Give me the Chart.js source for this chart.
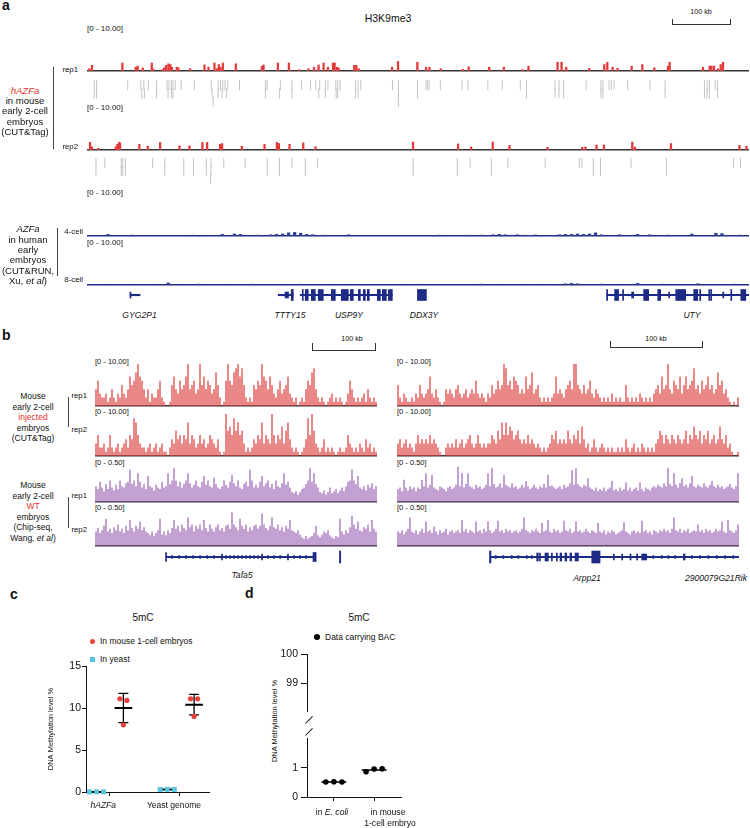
<!DOCTYPE html>
<html><head><meta charset="utf-8">
<script src="https://cdn.jsdelivr.net/npm/chart.js@4"></script>
<style>
html,body{margin:0;padding:0;background:#fff;}
#root{position:relative;width:750px;height:828px;overflow:hidden;font-family:"Liberation Sans",Arial,Helvetica,sans-serif;color:#111;}
.t{position:absolute;white-space:nowrap;line-height:1;}
.ln{position:absolute;}
canvas{position:absolute;}
</style></head><body><div id="root"></div>
<script>
// ---------------- DATA ----------------
// Panel a: genomic span (kb) and H3K9me3 peaks (position kb, signal)
const aSpanKb = 1140;
const aRep1Pos = [4.0,8.6,60.9,83.9,87.3,96.0,111.5,114.3,129.9,132.7,136.2,140.2,143.6,146.0,154.6,157.4,177.6,202.3,209.2,219.5,223.6,227.0,229.8,233.9,256.3,301.1,304.0,328.7,347.7,365.5,381.5,390.8,398.8,407.4,414.9,423.6,426.4,430.4,433.3,460.3,463.8,467.8,525.3,535.6,568.9,583.9,589.6,609.2,647.1,657.4,692.5,717.8,749.4,760.3,810.3,817.2,825.3,864.9,890.8,896.0,905.1,913.7,937.9,956.3,977.0,1000.5,1003.4,1060.8,1072.3,1075.3,1079.7,1086.6,1091.3,1095.3];
const aRep1Val = [0.6,1.5,2.1,1.0,1.3,0.8,2.1,0.5,0.35,0.8,1.5,1.9,1.7,1.0,1.0,0.85,0.6,1.6,1.0,2.1,0.6,1.7,1.0,2.1,1.9,1.2,1.6,2.1,2.1,0.35,0.6,1.0,1.6,2.1,1.0,2.1,2.1,1.0,0.8,1.5,1.5,0.6,1.0,2.5,2.3,1.0,1.0,0.6,0.45,1.1,1.0,1.0,0.35,1.3,2.3,2.3,1.0,0.7,1.7,2.3,1.0,0.7,1.3,1.7,0.85,1.3,2.3,1.0,1.3,1.3,1.3,0.6,1.7,2.3];
const aRep2Pos = [5.2,8.6,19.5,49.4,52.3,55.2,56.9,90.2,104.6,125.9,159.2,176.4,198.8,206.9,229.3,232.7,266.7,305.7,327.0,330.5,348.8,372.4,393.6,561.5,639.0,661.5,698.7,727.5,793.0,852.8,858.5,877.5,890.1,939.0,943.6,1005.6,1123.5,1135.6];
const aRep2Val = [2.0,0.85,0.45,0.85,1.5,2.0,1.9,1.5,1.0,2.0,1.1,1.1,2.0,2.0,1.5,1.7,1.0,1.5,2.0,1.7,1.5,1.9,0.85,2.1,1.6,0.8,2.1,1.2,0.7,0.7,0.8,1.3,1.3,2.1,0.8,1.7,1.2,1.0];
// peak-call rows (kb)
const aRep1Row1 = [2.3,6.3,60.9,83.9,89.1,97.2,111.5,129.9,133.3,137.4,140.2,144.2,154.6,177.6,207.5,219.5,223.6,227.6,231.6,236.2,256.9,302.3,305.2,328.7,348.8,365.5,381.5,390.8,397.6,407.4,412.0,425.8,429.2,433.3,460.3,464.9,469.5,525.2,535.6,569.0,583.9,586.8,589.6,609.2,647.1,657.5,692.5,717.8,749.4,760.3,810.3,817.2,825.3,864.9,890.8,894.2,905.1,909.2,913.7,937.9,977.0,1003.4,1072.4,1077.0,1081.0,1091.3,1095.4];
const aRep1Row2 = [2.3,6.3,85.6,90.2,111.5,131.6,137.4,140.2,209.2,219.5,226.4,233.9,302.3,327.0,348.8,395.9,407.4,426.4,429.2,460.3,464.9,535.6,569.0,760.3,810.3,817.2,825.3,890.8,894.2,1003.4,1072.4,1077.0,1081.0,1095.4];
const aRep1Row3 = [210.9,535.6];
const aRep2Row1 = [5.2,20.7,49.4,52.3,56.9,104.6,125.9,159.2,176.4,198.8,206.9,229.3,266.7,305.7,327.0,348.8,372.4,393.6,561.5,639.0,661.5,698.7,727.5,793.0,852.8,857.4,877.5,890.1,943.6,1005.6,1123.5,1135.6];
const aRep2Row2 = [5.2,49.4,52.3,56.9,125.9,159.2,176.4,198.8,206.9,305.7,327.0,372.4,561.5,639.0,698.7,877.5,890.1,1005.6];
const aRep2Row3 = [206.3];
// human CUT&RUN (binned signal)
const aHuman4cell = [.12,.1,.15,.5,.12,.1,.15,.3,.12,.1, .12,.15,.25,.1,.12,.15,.1,.3,.12,.1, .15,.12,.5,.15,.6,.5,.15,.12,.3,.15, .4,.5,.6,.9,1.0,.8,.5,.4,.2,.3, .15,.12,.15,.4,.15,.12,.1,.15,.2,.12, .1,.12,.15,.1,.12,.25,.15,.12,.3,.15, .12,.15,.12,.3,.15,.3,.2,.4,.5,.4, .3,.4,.3,.15,.35,.2,.15,.2,.4,.5, .5,.6,.5,.6,.9,.4,.2,.15,.4,.2, .15,.5,.2,.4,.15,.12,.3,.15,.12,.2, .6,.2,.15,.12,.8,.7,.2,.15,.3,.12];
const aHuman8cell = [.1,.12,.15,.1,.12,.1,.15,.12,.1,.12, .15,.1,.12,.6,.15,.1,.12,.15,.3,.12, .1,.12,.15,.1,.12,.1,.15,.3,.12,.1, .12,.15,.1,.12,.15,.3,.12,.1,.15,.12, .1,.12,.15,.1,.12,.25,.1,.15,.12,.1, .12,.15,.1,.12,.1,.3,.15,.12,.1,.15, .12,.1,.15,.12,.1,.3,.12,.15,.1,.12, .15,.12,.1,.15,.12,.1,.15,.2,.15,.4, .5,.4,.15,.12,.2,.3,.15,.1,.12,.15, .12,.5,.15,.12,.1,.3,.12,.15,.1,.12, .15,.4,.12,.1,.15,.12,.1,.3,.12,.1];
// genes panel a (kb ranges)
const aGeneNames = ['GYG2P1','TTTY15','USP9Y','DDX3Y','UTY'];
const aIntrons = [[74.1,91.4],[329.3,355.2],[367.2,525.8],[894.8,1139.6]];
const aExons = [[351.7,355.2],[370.7,372.4],[375.8,381.0],[386.2,393.1],[398.2,406.9],[420.7,427.6],[437.9,450.0],[453.4,458.6],[467.2,470.7],[475.8,479.3],[482.7,486.2],[500.0,505.2],[508.6,515.5],[519.0,525.8],[569.0,584.5],[894.8,896.6],[908.6,915.5],[922.4,924.1],[958.6,967.2],[982.8,987.9],[1013.8,1031.0],[1044.8,1051.7],[1055.0,1056.9],[1070.7,1072.4],[1074.0,1075.8],[1108.6,1110.3],[1125.9,1134.5]];
const aMarks = [[74.1,75.6],[341.0,347.0],[937.9,941.4],[1001.7,1003.4],[1094.8,1096.6]];

// Panel b: binned signal
const bInjRep1Left = [4,6,3,2, 2,3,1,2,4,2, 1,3,2,5, 3,2,4,7, 5,6,8,10,7,6,4, 2,4,1,3,2,2,4,6,2,1, 0,0,1, 5,7,4,3,6,4,5,7,10, 4,5,6,3,4,10,5,7,4,6,5,3,4,8,5,2, 0,1, 6,10,6,5,8,9,10,7,9,5, 2,1,2,1, 5,4,6,5,10,7,6,4,7,5,3,2, 4,6,3,4,5,7,3,2, 1,2,0,1,2,1, 4,6,5,8,9,4,2, 1,2,1,0,1,2,3,1,2,1,2,1,0,1, 3,6,4,2, 1,2,1,2,3,1,4,2,1,2,1];
const bInjRep2Left = [3,5,2,2, 3,1,2,5,2,1, 2,3,1,2, 3,4,2,5, 4,9,8,5,3,2,2, 1,2,3,1,2,3,1,2,3,1, 1,0,2, 4,3,6,4,5,3,5,4,8, 3,5,4,2,3,5,3,4,2,3,5,4,3,2,4,1, 0,1, 10,6,7,5,9,6,8,5,6,3, 1,2,1,2, 4,3,5,4,8,3,5,4,3,10,5,3, 5,4,7,3,6,8,4,2, 1,2,1,0,1,2, 4,9,5,10,6,3,2, 1,2,4,1,2,1,2,1,0,1,2,1,1,2, 5,3,2,1, 2,1,3,2,1,4,2,3,1,2,1];
const bWTRep1Left = [.22,.18,.28,.2,.15,.25,.18,.3,.2,.16, .24,.18,.3,.22,.2,.26,.28,.45,.25,.3, .22,.4,.28,.2,.25,.18,.36,.22,.2,.16, .24,.2,.18,.28,.2,.22,.4,.25,.3,.47, .3,.22,.28,.2,.25,.3,.4,.26,.2,.24, .3,.22,.2,.28,.36,.24,.3,.22,.2,.34, .25,.2,.18,.22,.3,.24,.2,.28,.38,.26, .22,.3,.2,.18,.25,.28,.22,.45,.3,.2, .24,.2,.28,.36,.22,.26,.3,.2,.25,.18, .3,.22,.2,.26,.4,.24,.28,.2,.14,.12, .15,.1,.14,.18,.2,.25,.3,.47,.28,.4, .25,.2,.14,.12,.16,.1,.14,.2,.12,.15, .18,.12,.16,.2,.15,.22,.28,.3,.45,.3, .25,.36,.2,.18,.22,.16,.24,.2,.26,.18,.22];
const bWTRep2Left = [.2,.25,.18,.22,.28,.38,.2,.24,.18,.26, .22,.3,.2,.24,.18,.28,.22,.36,.25,.2, .28,.24,.34,.22,.26,.2,.18,.15,.2,.14, .18,.22,.38,.16,.2,.15,.22,.18,.25,.36, .24,.28,.2,.3,.25,.22,.4,.26,.3,.2, .28,.24,.3,.22,.36,.25,.2,.3,.24,.2, .26,.3,.22,.25,.2,.28,.3,.24,.47,.3, .26,.22,.38,.28,.24,.3,.2,.26,.22,.28, .3,.24,.28,.45,.3,.25,.22,.28,.4,.26, .24,.3,.22,.26,.2,.28,.24,.36,.22,.2, .18,.22,.16,.12,.1,.14,.1,.12,.14,.18, .28,.15,.12,.16,.2,.18,.22,.15,.12,.1, .14,.12,.38,.2,.16,.22,.18,.26,.42,.3, .24,.34,.22,.2,.26,.24,.3,.2,.36,.24,.2];
const bInjRep1Right = [5,2,1,3, 2,1,1,2,1, 3,2,5,3,2, 3,4,7,3, 2,4,2,1, 0,1,4, 3,4,3,2,4, 5,3,2,3,4,2,3,4,3,6, 3,2,3,2,1,3,2, 5,3,4,6,4,5,10, 9,5,6,4,7,6,5,3, 4,3,7,4,5,8,3,4,5,2, 1,2,1,2,1,2,3, 7,3,4,3,2, 4,5,6,4,10,10,5,4,3,5, 3,4,6,3,2,4,3,2,1,2, 1,2,1,3,1,2,1,2,1,1, 5,2,1,2,1,2,1,3,2,1,2,1,2,1,3, 4,5,3,7,4,5,10,4,3,6,5,4,7,3,5, 7,4,5,6,9,4,5,3,6,4,5,7,4,5,3,4,8,5,6,3,4,2,1, 0,1,0,2];
const bInjRep2Right = [3,4,2,3, 4,2,3,2,1, 3,5,3,4,3, 4,3,5,3, 4,3,2,1, 0,0,2, 3,2,3,2,4, 2,3,4,2,3,4,5,3,2,3, 5,3,2,3,2,3,3, 5,4,3,6,4,8,5, 8,5,7,6,4,5,6,4, 3,4,3,5,3,4,3,2,3,2, 1,2,1,2,3,5,4, 6,3,4,3,4, 3,6,4,3,5,4,6,3,7,4, 2,3,1,2,4,2,1,2,3,2, 1,2,1,2,1,1,2,1,2,1, 4,2,1,2,3,1,2,1,3,2,1,2,1,2,1, 3,4,6,5,3,5,4,3,5,4,3,5,4,3,4, 6,3,5,4,7,5,4,6,3,5,4,6,3,4,5,3,4,7,4,3,5,2,3, 1,0,0,1];
const bWTRep1Right = [.18,.2,.15,.31,.2,.16,.22,.18,.2,.15, .2,.18,.31,.22,.4,.2,.24,.38,.2,.18, .16,.22,.2,.18,.15,.2,.22,.18,.2,.24, .49,.22,.4,.2,.25,.4,.22,.2,.18,.24, .2,.22,.18,.2,.24,.4,.22,.47,.25,.2, .22,.26,.2,.38,.24,.22,.2,.26,.2,.22, .18,.2,.24,.2,.29,.22,.18,.2,.24,.2, .18,.22,.2,.25,.2,.38,.22,.23,.2,.18, .2,.22,.18,.24,.2,.22,.26,.44,.24,.47, .25,.22,.2,.24,.22,.33,.2,.18,.16,.2, .15,.18,.16,.2,.15,.18,.2,.29,.16,.18, .15,.2,.16,.18,.27,.16,.2,.15,.18,.2, .16,.27,.18,.15,.2,.18,.16,.2,.22,.2, .24,.22,.2,.26,.22,.47,.25,.22,.4,.24, .2,.26,.33,.22,.24,.2,.26,.36,.22,.2, .24,.22,.2,.26,.22,.2,.24,.29,.22,.2, .24,.2,.22,.18,.2,.22,.25,.2,.18,.22,.4];
const bWTRep2Right = [.2,.18,.22,.16,.2,.24,.4,.2,.18,.22, .16,.2,.24,.18,.34,.2,.22,.18,.27,.2, .16,.22,.18,.2,.24,.16,.2,.22,.18,.2, .22,.18,.36,.2,.24,.18,.22,.2,.18,.34, .2,.22,.18,.24,.2,.34,.22,.18,.2,.24, .35,.2,.22,.18,.24,.2,.22,.18,.2,.22, .18,.2,.24,.4,.22,.2,.18,.22,.2,.24, .2,.18,.32,.2,.22,.36,.2,.18,.24,.2, .22,.18,.2,.35,.22,.2,.24,.18,.2,.34, .2,.22,.18,.2,.24,.2,.18,.22,.2,.18, .32,.2,.18,.22,.16,.2,.18,.22,.2,.16, .18,.2,.22,.33,.2,.18,.16,.2,.22,.18, .2,.18,.35,.2,.22,.18,.2,.16,.22,.2, .18,.22,.2,.24,.2,.22,.18,.24,.4,.22, .2,.24,.18,.22,.2,.24,.18,.2,.22,.2, .3,.2,.22,.18,.24,.2,.22,.18,.2,.24, .2,.22,.34,.2,.18,.36,.22,.2,.18,.22,.3];
// genes panel b (kb)
const bLeftSpanKb = 447.6, bRightSpanKb = 367.7;
const bLeftIntrons = [[112.7,349.2]];
const bLeftTall = [[388.0,390.0]];
const bLeftMid = [[112.0,113.6],[346.0,351.0]];
const bLeftShort = [[200.8,202.4],[264.3,265.9],[305.5,307.1]];
const bLeftTiny = [[121.6,122.8],[132.7,133.9],[143.8,145.0],[155.0,156.2],[166.1,167.3],[177.2,178.4],[188.3,189.5],[207.3,208.5],[213.7,214.9],[220.0,221.2],[226.4,227.6],[232.7,233.9],[239.1,240.3],[245.4,246.6],[251.8,253.0],[258.1,259.3],[274.0,275.2],[283.5,284.7],[293.1,294.3],[315.3,316.5],[324.8,326.0],[334.3,335.5]];
const bRightIntrons = [[100.0,368.8]];
const bRightTall = [[99.5,101.0],[209.4,218.3]];
const bRightMid = [[150.2,152.0],[153.2,154.2],[159.1,162.7],[166.0,167.0],[171.3,172.3],[175.3,177.1],[180.6,182.5],[186.0,187.8],[191.4,195.0]];
const bRightShort = [[232.6,233.6],[241.6,242.6],[250.5,251.5],[257.7,258.7],[263.1,268.5],[307.9,309.7]];
const bRightTiny = [[105.6,106.6],[113.8,114.8],[122.8,123.8],[129.9,130.9],[139.0,140.0],[144.3,145.3],[275.1,276.1],[284.1,285.1],[291.2,292.2],[298.4,299.4],[316.4,317.4],[325.3,326.3],[334.2,335.2],[343.3,344.3],[352.2,353.2],[361.1,362.1]];

// Panel c
const cCategories = ['hAZFa','Yeast genome'];
const cMouseEmbryo = [[11.1,10.9,8.0],[11.1,11.1,9.0]];
const cYeast = [[0.01,0.02,0.01],[0.30,0.32,0.30]];
const cTicks = [0,5,10,15];
// Panel d
const dCategories = ['in E. coli','in mouse 1-cell embryo'];
const dBAC = [[0.51,0.52,0.51],[0.86,0.95,0.96]];
const dUpperTicks = [99,100];
const dLowerTicks = [0,1];

// ---------------- DRAWING ----------------
const FONT='"Liberation Sans", Arial, Helvetica, sans-serif';
Chart.defaults.font.family=FONT;
Chart.defaults.color='#111';
const root=document.getElementById('root');
const NAVY='#1e2b86', RED='#e8302a';

function T(html,x,y,size,align,style){
  const d=document.createElement('div');d.className='t';d.innerHTML=html;
  const tx=align==='center'?'-50%':align==='right'?'-100%':'0';
  d.style.cssText=`left:${x}px;top:${y}px;font-size:${size}px;transform:translate(${tx},-50%);${style||''}`;
  root.appendChild(d);return d;
}
function L(x,y,w,h,color,extra){
  const d=document.createElement('div');d.className='ln';
  d.style.cssText=`left:${x}px;top:${y}px;width:${w}px;height:${h}px;background:${color||'#222'};${extra||''}`;
  root.appendChild(d);return d;
}
function cv(x,y,w,h){const c=document.createElement('canvas');c.width=w;c.height=h;c.style.left=x+'px';c.style.top=y+'px';c.style.width=w+'px';c.style.height=h+'px';root.appendChild(c);return c;}
function baseOpts(){return {responsive:false,maintainAspectRatio:false,animation:false,events:[],devicePixelRatio:1,plugins:{legend:{display:false},tooltip:{enabled:false},title:{display:false}}};}
function baseAxis(color,w){return {display:true,grid:{display:false,drawTicks:false},ticks:{display:false},border:{display:true,color:color,width:w||1.5}};}

function denseTrack(x,y,w,h,vals,color,max,axisColor,bw){
  new Chart(cv(x,y,w,h),{type:'bar',data:{labels:vals.map((v,i)=>i),datasets:[{data:vals,backgroundColor:color,borderWidth:0,barPercentage:bw||0.85,categoryPercentage:1}]},
    options:Object.assign(baseOpts(),{layout:{padding:{bottom:2}},scales:{x:baseAxis(axisColor),y:{display:false,min:0,max:max}}})});
}
function peakTrack(x,y,w,h,pos,vals,color,max,span,axisColor){
  new Chart(cv(x,y,w,h),{type:'bar',data:{datasets:[{data:pos.map((p,i)=>({x:p,y:vals[i]})),backgroundColor:color,borderWidth:0,barThickness:1.6}]},
    options:Object.assign(baseOpts(),{layout:{padding:{bottom:2}},scales:{x:Object.assign(baseAxis(axisColor),{type:'linear',min:0,max:span,offset:false}),y:{display:false,min:0,max:max}}})});
}
function rowTrack(x,y,w,h,rows,span){
  new Chart(cv(x,y,w,h),{type:'scatter',data:{datasets:rows.map((arr,r)=>({data:arr.map(p=>({x:p,y:r+1})),pointStyle:'line',rotation:90,pointRadius:5,borderColor:'#c4c4c4',borderWidth:1,clip:false}))},
    options:Object.assign(baseOpts(),{layout:{padding:0},scales:{x:{type:'linear',display:false,min:0,max:span},y:{type:'linear',display:false,min:0.5,max:3.5,reverse:true}}})});
}
function geneTrack(x,y,w,h,span,introns,groups){
  const ds=[{data:introns.map(r=>({x:r,y:'g'})),backgroundColor:NAVY,barThickness:1.5,grouped:false,borderWidth:0}];
  groups.forEach(g=>ds.push({data:g[0].map(r=>({x:r,y:'g'})),backgroundColor:NAVY,barThickness:g[1],grouped:false,borderWidth:0,minBarLength:1}));
  new Chart(cv(x,y,w,h),{type:'bar',data:{labels:['g'],datasets:ds},
    options:Object.assign(baseOpts(),{indexAxis:'y',layout:{padding:0},scales:{x:{type:'linear',display:false,min:0,max:span,offset:false},y:{type:'category',display:false}}})});
}

// ===== Panel a =====
T('<b>a</b>',2,5,14);
T('H3K9me3',388,18,10.5,'center');
T('100 kb',701,12,7.2,'center');
L(672,24,59,1,'#333');L(672,19,1,6,'#333');L(730,19,1,6,'#333');
T('[0 - 10.00]',87,29,8);
T('rep1',78,70,7.8,'right');
peakTrack(87,33,662,40,aRep1Pos,aRep1Val,'#e03a3a',10,aSpanKb,'#333');
rowTrack(87,75,662,37,[aRep1Row1,aRep1Row2,aRep1Row3],aSpanKb);
T('[0 - 10.00]',87,108,8);
T('rep2',78,147,7.8,'right');
peakTrack(87,112,662,40,aRep2Pos,aRep2Val,'#e03a3a',10,aSpanKb,'#333');
rowTrack(87,153,662,36,[aRep2Row1,aRep2Row2,aRep2Row3],aSpanKb);
L(52.5,67,1.2,82,'#444');
T('<i>hAZFa</i>',25,90.7,9.5,'center','color:'+RED);
T('in mouse',25,100.9,9.5,'center');
T('early 2-cell',25,111.4,9.5,'center');
T('embryos',25,121.7,9.5,'center');
T('(CUT&amp;Tag)',25,132,9.5,'center');

T('[0 - 10.00]',87,193,8);
T('4-cell',83,231.5,7.8,'right');
denseTrack(87,197,662,41,aHuman4cell,'#2b3f93',10,NAVY,0.55);
T('[0 - 10.00]',87,243,8);
T('8-cell',83,279.5,7.8,'right');
denseTrack(87,246,662,41,aHuman8cell,'#2b3f93',10,NAVY,0.55);
L(56.5,228,1.2,48,'#444');
T('<i>AZFa</i>',28,229.3,9.5,'center');
T('in human',28,239.6,9.5,'center');
T('early',28,249.9,9.5,'center');
T('embryos',28,260.2,9.5,'center');
T('(CUT&amp;RUN,',28,270.5,9.5,'center');
T('Xu, <i>et al</i>)',28,281,9.5,'center');

geneTrack(87,287,662,16,aSpanKb,aIntrons,[[aExons,11],[aMarks,6]]);
[[aGeneNames[0],139.5],[aGeneNames[1],290],[aGeneNames[2],349],[aGeneNames[3],424],[aGeneNames[4],692]].forEach(g=>T('<i>'+g[0]+'</i>',g[1],314.5,8.6,'center'));

// ===== Panel b =====
T('<b>b</b>',2,335,14);
T('100 kb',352,339,7.2,'center');
L(312,350,64,1,'#333');L(312,343,1,8,'#333');L(375,343,1,8,'#333');
T('100 kb',656,339,7.2,'center');
L(610,347,93,1,'#333');L(610,341,1,7,'#333');L(702,341,1,7,'#333');

const RED_T='rgba(222,70,70,0.92)', PUR_T='rgba(148,88,175,0.8)';
[[95,282],[397,342]].forEach((p,k)=>{
  T('[0 - 10.00]',p[0],362,7.5);
  T('[0 - 10.00]',p[0],412,7.5);
  T('[0 - 0.50]',p[0],463,7.5);
  T('[0 - 0.50]',p[0],508,7.5);
});
denseTrack(95,364,282,44,bInjRep1Left,RED_T,10,'#333',0.7);
denseTrack(95,414,282,44,bInjRep2Left,RED_T,10,'#333',0.7);
denseTrack(95,466,282,38,bWTRep1Left,PUR_T,0.5,'#333',0.7);
denseTrack(95,510,282,38,bWTRep2Left,PUR_T,0.5,'#333',0.7);
denseTrack(397,364,342,44,bInjRep1Right,RED_T,10,'#333',0.7);
denseTrack(397,414,342,44,bInjRep2Right,RED_T,10,'#333',0.7);
denseTrack(397,466,342,38,bWTRep1Right,PUR_T,0.5,'#333',0.7);
denseTrack(397,510,342,38,bWTRep2Right,PUR_T,0.5,'#333',0.7);

T('rep1',87,396,7.8,'right');
T('rep2',87,430,7.8,'right');
T('rep1',87,496,7.8,'right');
T('rep2',87,530,7.8,'right');
L(68,397,1.2,30,'#444');
L(68,497,1.2,31,'#444');
T('Mouse',33,396,8.5,'center');
T('early 2-cell',33,406.5,8.5,'center');
T('injected',33,417,8.5,'center','color:'+RED);
T('embryos',33,427.5,8.5,'center');
T('(CUT&amp;Tag)',33,438,8.5,'center');
T('Mouse',33,485,8.5,'center');
T('early 2-cell',33,495.5,8.5,'center');
T('WT',33,506,8.5,'center','color:'+RED);
T('embryos',33,516.5,8.5,'center');
T('(Chip-seq,',33,527,8.5,'center');
T('Wang, <i>et al</i>)',33,537.5,8.5,'center');

geneTrack(95,549,282,16,bLeftSpanKb,bLeftIntrons,[[bLeftTall,12],[bLeftMid,9],[bLeftShort,6],[bLeftTiny,3]]);
geneTrack(397,549,342,16,bRightSpanKb,bRightIntrons,[[bRightTall,12],[bRightMid,8],[bRightShort,6],[bRightTiny,3]]);
T('<i>Tafa5</i>',242,575,8.6,'center');
T('<i>Arpp21</i>',587,578,8.6,'center');
T('<i>2900079G21Rik</i>',716,578,8.6,'center');

// ===== Panel c =====
function mean(a){return a.reduce((s,v)=>s+v,0)/a.length;}
function sd(a){const m=mean(a);return Math.sqrt(a.reduce((s,v)=>s+(v-m)*(v-m),0)/(a.length-1));}
function pts(groups,off,jit){return groups.flatMap((vals,i)=>vals.map((v,j)=>({x:i+1+off+jit[j],y:v})));}
function meanLines(groups,off,half){return groups.flatMap((vals,i)=>{const c=i+1+off,m=mean(vals);return [{x:c-half,y:m},{x:c+half,y:m},{x:c,y:null}];});}
function errLines(groups,off,cap){return groups.flatMap((vals,i)=>{const c=i+1+off,m=mean(vals),s=sd(vals);
  return [{x:c,y:m-s},{x:c,y:m+s},{x:c,y:null},{x:c-cap,y:m-s},{x:c+cap,y:m-s},{x:c,y:null},{x:c-cap,y:m+s},{x:c+cap,y:m+s},{x:c,y:null}];});}
const lineDs=(data,w,order)=>({data,showLine:true,borderColor:'#000',borderWidth:w,pointRadius:0,spanGaps:false,clip:false,order});
const axisCommon=(tl)=>({grid:{display:true,drawOnChartArea:false,drawTicks:true,tickLength:tl,color:'#111',lineWidth:1},border:{display:true,color:'#111',width:1}});

T('<b>c</b>',10,594,14);
T('5mC',143,618,10,'center');
L(89.5,638.5,5,5,'#e8413c','border-radius:50%');
T('In mouse 1-cell embryos',100,641,8.5);
L(89.5,656.5,5,5,'#55c6de');
T('In yeast',100,659,8.5);

const RO=0.2, CO=-0.18;
new Chart(cv(44,658,169,162),{type:'scatter',data:{datasets:[
  {data:pts(cMouseEmbryo,RO,[-0.05,0.05,0]),pointStyle:'circle',pointRadius:2.6,backgroundColor:'#e8413c',borderWidth:0,clip:false,order:0},
  {data:pts(cYeast,CO,[-0.1,0,0.1]),pointStyle:'rect',pointRadius:3.5,backgroundColor:'#55c6de',borderWidth:0,clip:false,order:0},
  lineDs(meanLines(cMouseEmbryo,RO,0.125),2,1),
  lineDs(meanLines(cYeast,CO,0.1),2,1),
  lineDs(errLines(cMouseEmbryo,RO,0.07),1.3,1)
]},options:Object.assign(baseOpts(),{layout:{padding:{top:8,right:0,left:0,bottom:0}},scales:{
  x:Object.assign(axisCommon(4),{type:'linear',min:0.671,max:2.411,offset:false,
    afterBuildTicks:s=>{s.ticks=cCategories.map((c,i)=>({value:i+1}));},
    afterFit:s=>{s.height=28;},
    ticks:{callback:(v,i)=>cCategories[i],autoSkip:false,maxRotation:0,padding:5,labelOffset:-6,color:'#111',
      font:(ctx)=>({size:8.5,family:FONT,style:ctx.index===0?'italic':'normal'})}}),
  y:Object.assign(axisCommon(4),{min:0,max:15,
    afterBuildTicks:s=>{s.ticks=cTicks.map(v=>({value:v}));},
    afterFit:s=>{s.width=42;},
    ticks:{padding:1,font:{size:10.5},color:'#111'},
    title:{display:true,text:'DNA Methylation level %',font:{size:7.5},color:'#111',padding:{top:2,bottom:0}}})
}})});

// ===== Panel d =====
T('<b>d</b>',245,593,14);
T('5mC',359,618,10,'center');
L(314,634,6,6,'#000','border-radius:50%');
T('Data carrying BAC',325,637,8.5);
T('DNA Methylation level %',275,721,7.5,'center','transform:translate(-50%,-50%) rotate(-90deg);color:#111;');

new Chart(cv(260,645,150,76),{type:'scatter',data:{datasets:[{data:[]}]},options:Object.assign(baseOpts(),{layout:{padding:{top:8,bottom:1,right:5}},scales:{
  x:{type:'linear',display:false,min:0.333,max:2.667},
  y:Object.assign(axisCommon(6),{min:98,max:100,
    afterBuildTicks:s=>{s.ticks=dUpperTicks.map(v=>({value:v}));},
    afterFit:s=>{s.width=47;},
    ticks:{padding:3,font:{size:10.5},color:'#111'}})
}})});
new Chart(cv(260,729,145,88),{type:'scatter',data:{datasets:[
  {data:pts(dBAC,0,[-0.2,0,0.2]),pointStyle:'circle',pointRadius:2.8,backgroundColor:'#000',borderWidth:0,clip:false,order:0},
  lineDs(meanLines(dBAC,0,0.31),1.5,1)
]},options:Object.assign(baseOpts(),{layout:{padding:{top:4,right:0}},scales:{
  x:Object.assign(axisCommon(4),{type:'linear',min:0.333,max:2.667,offset:false,
    afterBuildTicks:s=>{s.ticks=dCategories.map((c,i)=>({value:i+1}));},
    afterFit:s=>{s.height=20;},
    ticks:{display:false}}),
  y:Object.assign(axisCommon(6),{min:0,max:2,
    afterBuildTicks:s=>{s.ticks=dLowerTicks.map(v=>({value:v}));},
    afterFit:s=>{s.width=47;},
    ticks:{padding:3,font:{size:10.5},color:'#111'}})
}})});
// axis break marks
L(303.5,720,10,1.1,'#111','transform:translateY(-50%) rotate(-45deg);');
L(303.5,732,10,1.1,'#111','transform:translateY(-50%) rotate(-45deg);');
T('in <i>E. coli</i>',332,812,8.6,'center');
T('in mouse',388,812,8.6,'center');
T('1-cell embryo',390,823,8.6,'center');
</script></body></html>
